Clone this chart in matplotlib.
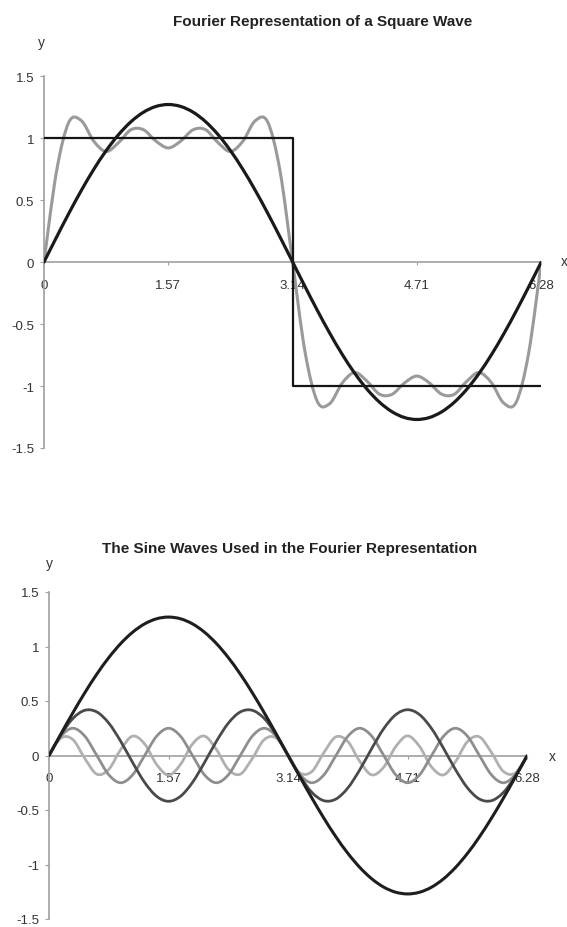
import numpy as np
import matplotlib
matplotlib.use("Agg")
import matplotlib.pyplot as plt
from matplotlib.path import Path
from matplotlib.patches import PathPatch

plt.rcParams['font.family'] = ['Liberation Sans', 'DejaVu Sans']
plt.rcParams['axes.unicode_minus'] = False

# Fourier series of the square wave: odd harmonics and their amplitudes (4/(n*pi))
harmonics = [1, 3, 5, 7]
amplitudes = [1.27, 0.42, 0.25, 0.18]
wave_colors = ['#1e1e1e', '#4a4a4a', '#8e8e8e', '#b0b0b0']
wave_widths = [2.2, 2.0, 2.0, 2.0]

# sample points used in the worksheet (step of pi/20)
x_step = 0.157
n_steps = 40
x_vals = np.arange(n_steps + 1) * x_step

# square wave corners
square_x = [0, 3.14, 3.14, 6.28]
square_y = [1, 1, -1, -1]

tick_pos = [0, 1.57, 3.14, 4.71, 6.28]
tick_labels = ['0', '1.57', '3.14', '4.71', '6.28']
ytick_pos = [-1.5, -1, -0.5, 0, 0.5, 1, 1.5]
ytick_labels = ['-1.5', '-1', '-0.5', '0', '0.5', '1', '1.5']

axis_grey = '#a0a0a0'


def smooth_line(ax, xs, ys, color, lw, zorder=3):
    # Excel style smoothed line: Catmull-Rom segments as cubic Beziers
    pts = np.column_stack([xs, ys])
    padded = np.vstack([pts[0], pts, pts[-1]])
    verts = [pts[0]]
    codes = [Path.MOVETO]
    for i in range(1, len(padded) - 2):
        p0, p1, p2, p3 = padded[i - 1], padded[i], padded[i + 1], padded[i + 2]
        c1 = p1 + (p2 - p0) / 6.0
        c2 = p2 - (p3 - p1) / 6.0
        verts += [c1, c2, p2]
        codes += [Path.CURVE4] * 3
    patch = PathPatch(Path(verts, codes), fill=False, edgecolor=color,
                      lw=lw, zorder=zorder, capstyle='round', joinstyle='round')
    ax.add_patch(patch)


def style_axes(ax):
    ax.set_xlim(0, 6.28)
    ax.set_ylim(-1.5, 1.5)
    ax.spines['top'].set_visible(False)
    ax.spines['right'].set_visible(False)
    ax.spines['bottom'].set_position(('data', 0))
    for s in ['left', 'bottom']:
        ax.spines[s].set_color(axis_grey)
        ax.spines[s].set_linewidth(1.2)
    ax.spines['bottom'].set_zorder(1)
    ax.set_xticks(tick_pos)
    ax.set_xticklabels(tick_labels)
    ax.set_yticks(ytick_pos)
    ax.set_yticklabels(ytick_labels)
    ax.tick_params(axis='x', length=2, pad=10, color=axis_grey,
                   labelsize=9.5, labelcolor='#333333')
    ax.tick_params(axis='y', length=3, pad=4, color=axis_grey,
                   labelsize=9.5, labelcolor='#333333')
    ax.patch.set_alpha(0)


fig = plt.figure(figsize=(5.67, 9.28), dpi=100)
W, H = 567.0, 928.0

# top chart
ax1 = fig.add_axes([44 / W, 1 - 449 / H, (541 - 44) / W, (449 - 77) / H])
style_axes(ax1)
partial_sum = np.zeros(len(x_vals))
for n, a in zip(harmonics, amplitudes):
    partial_sum = partial_sum + a * np.sin(n * x_vals)
smooth_line(ax1, x_vals, partial_sum, '#9a9a9a', 2.2, zorder=3)
ax1.plot(square_x, square_y, color='#151515', lw=1.6, zorder=4)
smooth_line(ax1, x_vals, amplitudes[0] * np.sin(harmonics[0] * x_vals),
            '#1a1a1a', 2.3, zorder=5)

fig.text(323 / W, 1 - 22 / H, 'Fourier Representation of a Square Wave',
         ha='center', va='center', fontsize=11, fontweight='bold', color='#222222')
fig.text(41 / W, 1 - 43 / H, 'y', ha='center', va='center', fontsize=10, color='#333333')
fig.text(564 / W, 1 - 262 / H, 'x', ha='center', va='center', fontsize=10, color='#333333')

# bottom chart
ax2 = fig.add_axes([49 / W, 1 - 920 / H, (527 - 49) / W, (920 - 593) / H])
style_axes(ax2)
for i in range(len(harmonics) - 1, -1, -1):
    ys = amplitudes[i] * np.sin(harmonics[i] * x_vals)
    smooth_line(ax2, x_vals, ys, wave_colors[i], wave_widths[i], zorder=3 + (3 - i))

fig.text(290 / W, 1 - 549 / H, 'The Sine Waves Used in the Fourier Representation',
         ha='center', va='center', fontsize=11, fontweight='bold', color='#222222')
fig.text(49 / W, 1 - 564 / H, 'y', ha='center', va='center', fontsize=10, color='#333333')
fig.text(552 / W, 1 - 757 / H, 'x', ha='center', va='center', fontsize=10, color='#333333')

fig.savefig('out.png', dpi=100)
